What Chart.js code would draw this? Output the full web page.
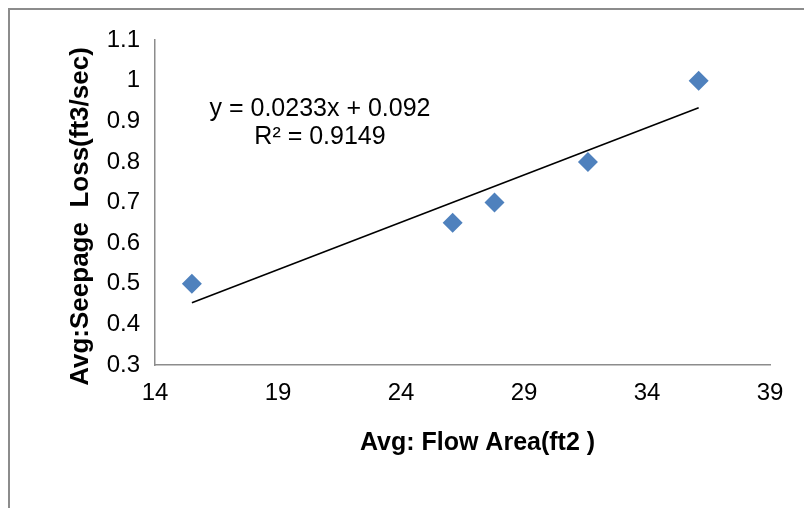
<!DOCTYPE html>
<html>
<head>
<meta charset="utf-8">
<script src="https://cdn.jsdelivr.net/npm/chart.js@4"></script>
<style>
  html, body { margin: 0; padding: 0; background: #fff; }
  #wrap { position: relative; width: 804px; height: 508px; overflow: hidden; }
  #frame {
    position: absolute; left: 8px; top: 8px; width: 900px; height: 600px;
    border-left: 2px solid #8c8c8c; border-top: 2px solid #8c8c8c;
  }
  #seepChart { position: absolute; left: 0; top: 0; }
</style>
</head>
<body>
<div id="wrap">
  <div id="frame"></div>
  <canvas id="seepChart" width="804" height="508"></canvas>
</div>
<script>
// Seepage loss vs flow area, with linear trendline
const flowArea = [15.5, 26.1, 27.8, 31.6, 36.1];
const seepageLoss = [0.5, 0.65, 0.7, 0.8, 1.0];
const xTicks = [14, 19, 24, 29, 34, 39];
const yTicks = [0.3, 0.4, 0.5, 0.6, 0.7, 0.8, 0.9, 1.0, 1.1];
const trendSlope = 0.0233;
const trendIntercept = 0.092;
const trendLabel = ['y = 0.0233x + 0.092', 'R\u00B2 = 0.9149'];
const xTitle = 'Avg: Flow Area(ft2 )';
const yTitle = 'Avg:Seepage  Loss(ft3/sec)';

const FONT = "'Liberation Sans', Arial, sans-serif";
const AXIS_GREY = '#8c8c8c';
const MARKER = '#4F81BD';

const xMin = Math.min(...flowArea);
const xMax = Math.max(...flowArea);
const trendPoints = [xMin, xMax].map(x => ({ x, y: trendSlope * x + trendIntercept }));

// titles + equation text, placed relative to the chart area
const textPlugin = {
  id: 'textPlugin',
  afterDraw(chart) {
    const { ctx, chartArea: a } = chart;
    ctx.save();
    ctx.fillStyle = '#000';
    ctx.textAlign = 'center';
    ctx.textBaseline = 'middle';

    ctx.font = 'bold 25px ' + FONT;
    ctx.fillText(xTitle, (a.left + a.right) / 2 + 15, a.bottom + 78);

    ctx.save();
    ctx.translate(a.left - 74, (a.top + a.bottom) / 2 + 14);
    ctx.rotate(-Math.PI / 2);
    ctx.font = 'bold 26px ' + FONT;
    ctx.fillText(yTitle, 0, 0);
    ctx.restore();

    ctx.font = '25px ' + FONT;
    const cx = a.left + 165;
    ctx.fillText(trendLabel[0], cx, a.top + 69);
    ctx.fillText(trendLabel[1], cx, a.top + 97);
    ctx.restore();
  }
};

new Chart(document.getElementById('seepChart'), {
  type: 'scatter',
  data: {
    datasets: [
      {
        label: 'Seepage',
        data: flowArea.map((x, i) => ({ x, y: seepageLoss[i] })),
        pointStyle: 'rectRot',
        pointRadius: 10,
        pointHoverRadius: 10,
        backgroundColor: MARKER,
        borderColor: MARKER,
        borderWidth: 0,
        order: 1
      },
      {
        label: 'Linear',
        type: 'line',
        data: trendPoints,
        borderColor: '#000',
        borderWidth: 1.6,
        pointRadius: 0,
        fill: false,
        order: 2
      }
    ]
  },
  options: {
    responsive: false,
    animation: false,
    layout: { padding: { left: 0, top: 40, right: 34, bottom: 0 } },
    plugins: { legend: { display: false }, tooltip: { enabled: false } },
    scales: {
      x: {
        type: 'linear',
        min: 14, max: 39,
        afterBuildTicks: (s) => { s.ticks = xTicks.map(v => ({ value: v })); },
        afterFit: (s) => { s.height = 143; },
        grid: { display: false, drawTicks: false },
        border: { display: true, color: AXIS_GREY, width: 1.5 },
        ticks: { color: '#000', padding: 14, font: { family: FONT, size: 24 }, maxRotation: 0 }
      },
      y: {
        type: 'linear',
        min: 0.3, max: 1.1,
        afterBuildTicks: (s) => { s.ticks = yTicks.map(v => ({ value: v })); },
        afterFit: (s) => { s.width = 155; },
        grid: { display: false, drawTicks: false },
        border: { display: true, color: AXIS_GREY, width: 1.5 },
        ticks: {
          color: '#000', padding: 15, font: { family: FONT, size: 24 },
          callback: (v) => String(Number(v.toFixed(1)))
        }
      }
    }
  },
  plugins: [textPlugin]
});
</script>
</body>
</html>
